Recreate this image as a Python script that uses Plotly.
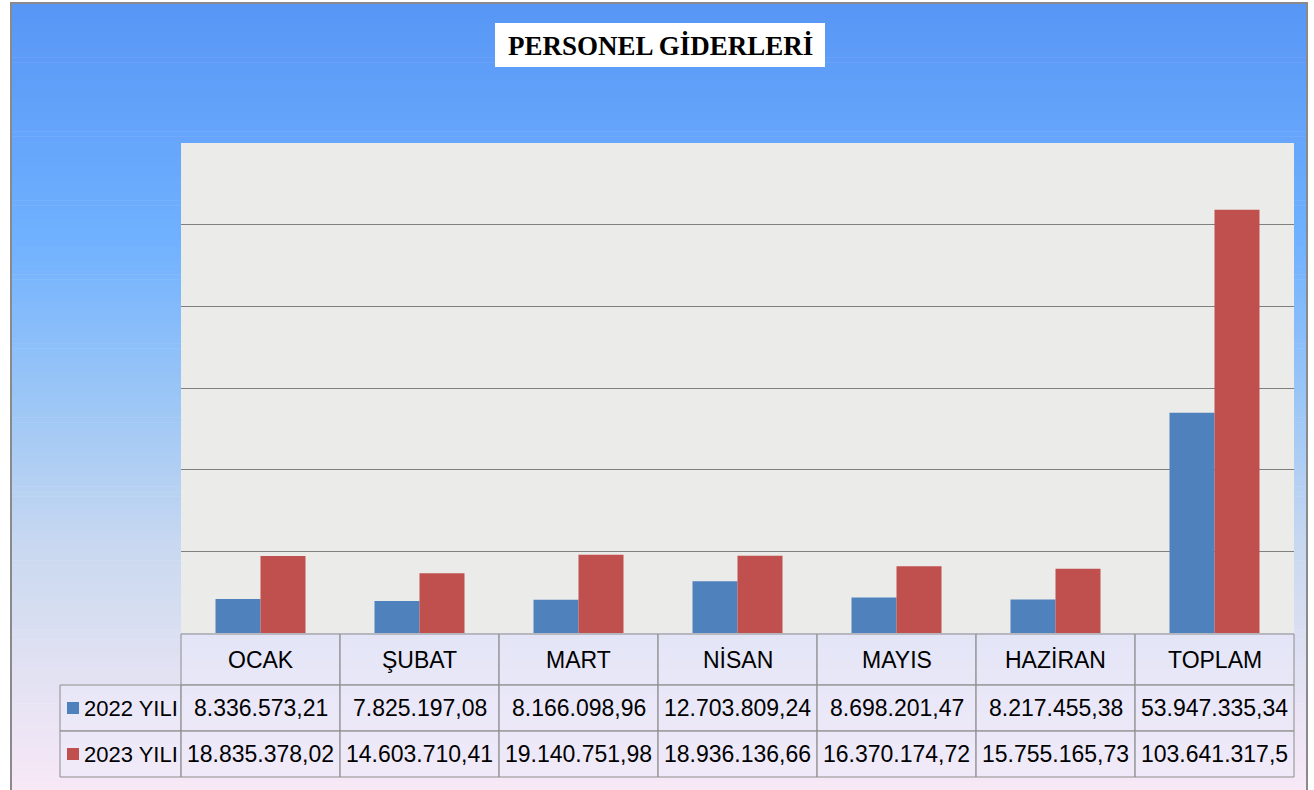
import plotly.graph_objects as go

# ---------------- data ----------------
categories = ["OCAK", "ŞUBAT", "MART", "NİSAN", "MAYIS", "HAZİRAN", "TOPLAM"]
values_2022 = [8336573.21, 7825197.08, 8166098.96, 12703809.24, 8698201.47, 8217455.38, 53947335.34]
values_2023 = [18835378.02, 14603710.41, 19140751.98, 18936136.66, 16370174.72, 15755165.73, 103641317.5]
labels_2022 = ["8.336.573,21", "7.825.197,08", "8.166.098,96", "12.703.809,24", "8.698.201,47", "8.217.455,38", "53.947.335,34"]
labels_2023 = ["18.835.378,02", "14.603.710,41", "19.140.751,98", "18.936.136,66", "16.370.174,72", "15.755.165,73", "103.641.317,5"]
series_names = ["2022 YILI", "2023 YILI"]
title_text = "PERSONEL GİDERLERİ"
y_max = 120_000_000
grid_vals = [20_000_000, 40_000_000, 60_000_000, 80_000_000, 100_000_000]

# ---------------- layout helpers ----------------
W, H = 1314, 790
L, R, T, B = 181, 20, 143, 157
PW, PH = W - L - R, H - T - B


def fx(px):
    return (px - L) / PW


def fy(py):
    return (H - B - py) / PH


BLUE = "#4F81BD"
RED = "#C0504D"
FONT_FAMILY = "Liberation Sans Narrow, Arial Narrow, Liberation Sans, Arial"
TABLE_FONT = dict(family=FONT_FAMILY, size=23, color="#000000")
LEGEND_FONT = dict(family=FONT_FAMILY, size=22, color="#000000")

fig = go.Figure()
fig.add_trace(go.Bar(x=categories, y=values_2022, name=series_names[0], marker=dict(color=BLUE, line=dict(width=0))))
fig.add_trace(go.Bar(x=categories, y=values_2023, name=series_names[1], marker=dict(color=RED, line=dict(width=0))))

shapes = []
annotations = []

# background gradient (inside frame)
stops = [
    (0.00, (88, 150, 245)),
    (0.30, (112, 177, 255)),
    (0.50, (155, 198, 246)),
    (0.70, (203, 217, 240)),
    (0.85, (226, 226, 243)),
    (1.00, (248, 232, 246)),
]


def grad(t):
    for (t0, c0), (t1, c1) in zip(stops[:-1], stops[1:]):
        if t <= t1:
            u = (t - t0) / (t1 - t0)
            return "rgb(%d,%d,%d)" % tuple(round(a + (b - a) * u) for a, b in zip(c0, c1))
    return "rgb(%d,%d,%d)" % stops[-1][1]


fx0, fx1, fy0, fy1 = 11, 1307, 3, 792
nb = 160
for i in range(nb):
    p0 = fy0 + (fy1 - fy0) * i / nb
    p1 = fy0 + (fy1 - fy0) * (i + 1) / nb + 0.6
    shapes.append(dict(type="rect", xref="paper", yref="paper", x0=fx(fx0), x1=fx(fx1), y0=fy(p0), y1=fy(p1),
                       fillcolor=grad((i + 0.5) / nb), line=dict(width=0), layer="below"))

# plot area background
shapes.append(dict(type="rect", xref="paper", yref="paper", x0=0, x1=1, y0=0, y1=1,
                   fillcolor="#EBEBEA", line=dict(width=0), layer="below"))

# frame
shapes.append(dict(type="rect", xref="paper", yref="paper", x0=fx(fx0), x1=fx(fx1), y0=fy(fy0), y1=fy(fy1),
                   fillcolor="rgba(0,0,0,0)", line=dict(color="#8A8A8A", width=2), layer="above"))

# title box
shapes.append(dict(type="rect", xref="paper", yref="paper", x0=fx(495), x1=fx(825), y0=fy(23), y1=fy(67),
                   fillcolor="#FFFFFF", line=dict(width=0), layer="above"))
annotations.append(dict(text="<b>" + title_text + "</b>", xref="paper", yref="paper", x=fx(660), y=fy(46),
                        xanchor="center", yanchor="middle", showarrow=False,
                        font=dict(family="Liberation Serif, Times New Roman, serif", size=27, color="#000000")))

# table
row_top, row_h0, row1, row2 = 634, 685, 731, 777
n = len(categories)
cell_fill = "rgba(236,236,252,0.5)"
border = dict(color="#8C8C8C", width=1)
# header cells
for i in range(n):
    shapes.append(dict(type="rect", xref="paper", yref="paper", x0=i / n, x1=(i + 1) / n, y0=fy(row_top), y1=fy(row_h0),
                       fillcolor=cell_fill, line=border, layer="above"))
    annotations.append(dict(text=categories[i], xref="paper", yref="paper", x=(i + 0.5) / n, y=fy((row_top + row_h0) / 2),
                            xanchor="center", yanchor="middle", showarrow=False, font=TABLE_FONT))
# data rows
for r, (ya, yb, labs) in enumerate([(row_h0, row1, labels_2022), (row1, row2, labels_2023)]):
    shapes.append(dict(type="rect", xref="paper", yref="paper", x0=fx(60), x1=0, y0=fy(ya), y1=fy(yb),
                       fillcolor=cell_fill, line=border, layer="above"))
    for i in range(n):
        shapes.append(dict(type="rect", xref="paper", yref="paper", x0=i / n, x1=(i + 1) / n, y0=fy(ya), y1=fy(yb),
                           fillcolor=cell_fill, line=border, layer="above"))
        annotations.append(dict(text=labs[i], xref="paper", yref="paper", x=(i + 0.5) / n, y=fy((ya + yb) / 2),
                                xanchor="center", yanchor="middle", showarrow=False, font=TABLE_FONT))
    # legend key
    yc = (ya + yb) / 2
    shapes.append(dict(type="rect", xref="paper", yref="paper", x0=fx(67), x1=fx(79), y0=fy(yc - 6), y1=fy(yc + 6),
                       fillcolor=[BLUE, RED][r], line=dict(width=0), layer="above"))
    annotations.append(dict(text=series_names[r], xref="paper", yref="paper", x=fx(82), y=fy(yc),
                            xanchor="left", yanchor="middle", showarrow=False, font=LEGEND_FONT))

fig.update_layout(
    width=W, height=H,
    margin=dict(l=L, r=R, t=T, b=B, pad=0),
    paper_bgcolor="#FFFFFF",
    plot_bgcolor="rgba(0,0,0,0)",
    barmode="group",
    bargap=0.434,
    bargroupgap=0,
    showlegend=False,
    shapes=shapes,
    annotations=annotations,
    xaxis=dict(showticklabels=False, showgrid=False, zeroline=False, showline=False, ticks=""),
    yaxis=dict(range=[0, y_max], tickvals=grid_vals, showticklabels=False, showgrid=True,
               gridcolor="#7F7F7F", gridwidth=1, zeroline=False, showline=False, ticks=""),
)

fig.write_html("out.html", config={"displayModeBar": False},
               post_script="document.body.style.margin='0';document.body.style.overflow='hidden';")
